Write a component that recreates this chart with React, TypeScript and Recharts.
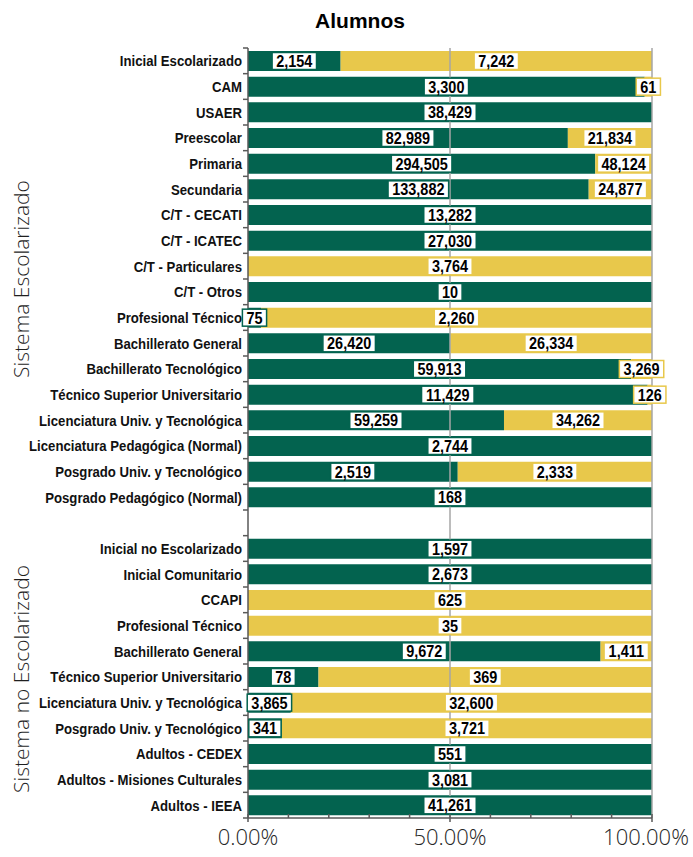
import { BarChart, Bar, XAxis, YAxis, ReferenceLine, LabelList } from "recharts";

// filas del gráfico (la fila vacía separa los dos sistemas)
const categories = [
  "Inicial Escolarizado",
  "CAM",
  "USAER",
  "Preescolar",
  "Primaria",
  "Secundaria",
  "C/T - CECATI",
  "C/T - ICATEC",
  "C/T - Particulares",
  "C/T - Otros",
  "Profesional Técnico",
  "Bachillerato General",
  "Bachillerato Tecnológico",
  "Técnico Superior Universitario",
  "Licenciatura Univ. y Tecnológica",
  "Licenciatura Pedagógica (Normal)",
  "Posgrado Univ. y Tecnológico",
  "Posgrado Pedagógico (Normal)",
  "",
  "Inicial no Escolarizado",
  "Inicial Comunitario",
  "CCAPI",
  "Profesional Técnico",
  "Bachillerato General",
  "Técnico Superior Universitario",
  "Licenciatura Univ. y Tecnológica",
  "Posgrado Univ. y Tecnológico",
  "Adultos - CEDEX",
  "Adultos - Misiones Culturales",
  "Adultos - IEEA",
];

const publico = [
  2154, 3300, 38429, 82989, 294505, 133882, 13282, 27030, 0, 10, 75, 26420,
  59913, 11429, 59259, 2744, 2519, 168, 0, 1597, 2673, 0, 0, 9672, 78, 3865,
  341, 551, 3081, 41261,
];

const privado = [
  7242, 61, 0, 21834, 48124, 24877, 0, 0, 3764, 0, 2260, 26334, 3269, 126,
  34262, 0, 2333, 0, 0, 0, 0, 625, 35, 1411, 369, 32600, 3721, 0, 0, 0,
];

const xTicks = [0, 0.1, 0.2, 0.3, 0.4, 0.5, 0.6, 0.7, 0.8, 0.9, 1];
const xMajor = [0, 0.5, 1];

const sistemas = [
  { name: "Sistema Escolarizado", center: 279 },
  { name: "Sistema no Escolarizado", center: 679 },
];

const GREEN = "#03634f";
const YELLOW = "#e8c84b";
const AXIS = "#595959";
const GRID = "#a6a6a6";
// no hay fuente condensada instalada: se estrecha Liberation Sans Bold a mano
const BOLD = "'Liberation Sans', Arial, sans-serif";
const SQUEEZE = 0.85;
const LIGHT = "'Open Sans', 'Lato', sans-serif";

const W = 693;
const H = 857;
const TOP = 48;
const X_AXIS_H = 39;
const LEFT = 248;
const RIGHT = 41;
const BAND = (H - TOP - X_AXIS_H) / categories.length;

const data = categories.map((name, i) => ({
  id: `r${i}`,
  name,
  pub: publico[i],
  priv: privado[i],
}));
const nameById = new Map(data.map((d) => [d.id, d.name]));

const CatTick = (props: any) => {
  const { x, y, payload, index } = props;
  const last = index === categories.length - 1;
  return (
    <g>
      <line x1={x - 5} x2={x} y1={y - BAND / 2} y2={y - BAND / 2} stroke={AXIS} strokeWidth={1.5} />
      {last && (
        <line x1={x - 5} x2={x} y1={y + BAND / 2} y2={y + BAND / 2} stroke={AXIS} strokeWidth={1.5} />
      )}
      <g transform={`translate(${x - 6},${y}) scale(${SQUEEZE},1)`}>
        <text
          x={0}
          y={0}
          dy="0.36em"
          textAnchor="end"
          fontFamily={BOLD}
          fontWeight={700}
          fontSize={15.5}
          fill="#111"
        >
          {nameById.get(payload.value)}
        </text>
      </g>
    </g>
  );
};

const PctTick = (props: any) => {
  const { x, y, payload } = props;
  const major = xMajor.includes(payload.value);
  return (
    <g>
      <line x1={x} x2={x} y1={y - 4} y2={major ? y + 4 : y} stroke={AXIS} strokeWidth={1.5} />
      {major && (
        <text
          x={payload.value === 1 ? x - 6 : x}
          y={y + 27}
          textAnchor="middle"
          fontFamily={LIGHT}
          fontWeight={300}
          fontSize={22}
          fill="#262626"
        >
          {(payload.value * 100).toFixed(2)}%
        </text>
      )}
    </g>
  );
};

const boxLabel = (stroke: string) => (props: any) => {
  const { x, y, width, height, value } = props;
  if (!value) return null;
  const text = Number(value).toLocaleString("en-US");
  const digits = text.replace(/,/g, "").length;
  const commas = text.length - digits;
  const w = digits * 8.1 + commas * 4 + 8;
  const cx = Number(x) + Number(width) / 2;
  const cy = Number(y) + Number(height) / 2;
  return (
    <g>
      <rect x={cx - w / 2} y={cy - 8.5} width={w} height={17} fill="#fff" stroke={stroke} strokeWidth={1.5} />
      <g transform={`translate(${cx},${cy}) scale(${SQUEEZE},1)`}>
        <text
          x={0}
          y={0}
          dy="0.36em"
          textAnchor="middle"
          fontFamily={BOLD}
          fontWeight={700}
          fontSize={17}
          fill="#000"
        >
          {text}
        </text>
      </g>
    </g>
  );
};

export default function App() {
  return (
    <div style={{ position: "absolute", left: 0, top: 0, width: W, height: H, background: "#fff" }}>
      <div
        style={{
          position: "absolute",
          left: 360,
          top: 21,
          transform: "translate(-50%, -50%)",
          fontFamily: BOLD,
          fontWeight: 700,
          fontSize: 21,
          color: "#000",
          whiteSpace: "nowrap",
        }}
      >
        Alumnos
      </div>
      {sistemas.map((s) => (
        <div
          key={s.name}
          style={{
            position: "absolute",
            left: 21,
            top: s.center,
            transform: "translate(-50%, -50%) rotate(-90deg)",
            fontFamily: LIGHT,
            fontWeight: 300,
            fontSize: 21,
            color: "#1f1f1f",
            whiteSpace: "nowrap",
          }}
        >
          {s.name}
        </div>
      ))}
      <BarChart
        width={W}
        height={H}
        data={data}
        layout="vertical"
        stackOffset="expand"
        margin={{ top: TOP, right: RIGHT, bottom: 0, left: 0 }}
      >
        <XAxis
          type="number"
          domain={[0, 1]}
          ticks={xTicks}
          interval={0}
          height={X_AXIS_H}
          tickLine={false}
          tickSize={0}
          tickMargin={0}
          tick={<PctTick />}
          axisLine={{ stroke: AXIS, strokeWidth: 1.5 }}
        />
        <YAxis
          type="category"
          dataKey="id"
          width={LEFT}
          interval={0}
          tickLine={false}
          tickSize={0}
          tickMargin={0}
          tick={<CatTick />}
          axisLine={{ stroke: AXIS, strokeWidth: 1.5 }}
        />
        <ReferenceLine x={0.5} stroke={GRID} strokeWidth={1.5} />
        <ReferenceLine x={1} stroke={GRID} strokeWidth={1.5} />
        <Bar dataKey="pub" stackId="a" fill={GREEN} barSize={20} isAnimationActive={false}>
          <LabelList dataKey="pub" content={boxLabel(GREEN)} />
        </Bar>
        <Bar dataKey="priv" stackId="a" fill={YELLOW} barSize={20} isAnimationActive={false}>
          <LabelList dataKey="priv" content={boxLabel(YELLOW)} />
        </Bar>
      </BarChart>
    </div>
  );
}
